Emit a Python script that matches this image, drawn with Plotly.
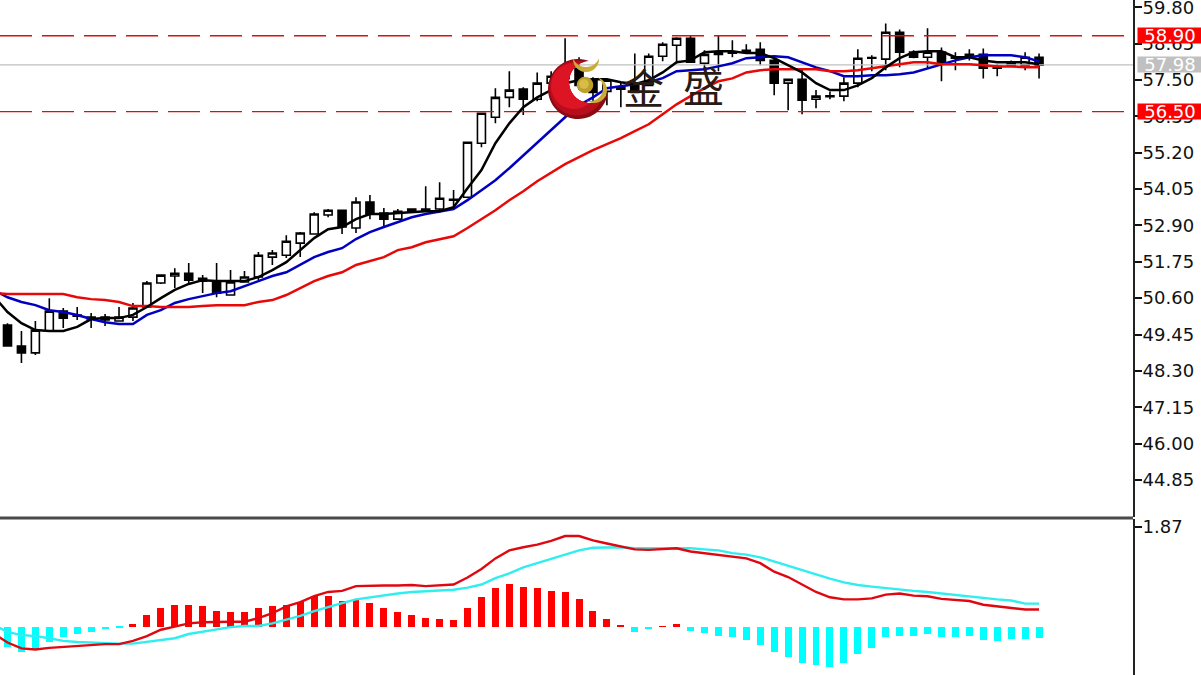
import numpy as np
import plotly.graph_objects as go

W, H = 1201, 675

opens = [49.75,49.09,48.87,49.56,50.19,50.07,50.00,50.00,49.88,50.00,50.32,51.08,51.30,51.39,51.23,51.14,50.70,51.11,51.27,51.90,
         51.96,52.34,52.63,53.23,53.38,52.82,53.64,53.29,53.10,53.42,53.42,53.42,53.73,53.79,55.50,56.32,56.95,57.21,56.89,57.40,
         57.55,57.87,57.49,57.14,57.21,57.33,57.33,58.25,58.60,58.82,58.03,58.31,58.38,58.44,58.47,58.12,57.40,57.52,56.89,57.00,
         56.99,57.40,58.19,58.16,59.01,58.38,58.22,58.38,58.22,58.25,58.31,57.87,57.97,57.97,58.22]
highs = [49.81,49.56,49.88,50.60,50.29,50.32,50.13,50.10,50.32,50.45,51.14,51.36,51.55,51.71,51.33,51.71,51.49,51.46,52.06,52.12,
         52.59,52.69,53.32,53.42,53.38,53.79,53.86,53.45,53.42,53.42,54.14,54.27,54.02,55.53,56.45,57.24,57.78,57.27,57.74,57.78,
         58.82,58.22,57.59,57.49,57.43,58.34,58.34,58.69,58.85,58.91,58.44,58.91,58.76,58.63,58.69,58.22,57.52,57.87,57.18,57.14,
         57.59,58.47,58.28,59.29,59.10,58.44,59.14,58.53,58.38,58.47,58.50,58.00,58.12,58.38,58.34]
lows = [49.09,48.55,48.80,49.56,49.66,49.91,49.66,49.72,49.88,49.88,50.32,51.05,50.92,51.08,50.76,50.63,50.70,51.11,51.17,51.65,
        51.87,51.90,52.63,53.16,52.63,52.66,53.10,52.88,53.07,53.35,53.35,53.38,53.48,53.76,55.37,56.13,56.64,56.39,56.83,57.11,
        57.18,57.18,56.70,56.70,56.64,57.08,57.33,58.09,58.03,58.06,57.81,57.78,58.22,58.35,57.97,57.02,56.54,56.42,56.61,56.89,
        56.83,57.27,57.78,57.81,57.90,58.19,57.87,57.46,57.81,58.12,57.55,57.62,57.93,57.81,57.55]
closes = [49.09,48.87,49.59,50.19,49.97,50.03,49.94,49.91,50.00,50.29,51.08,51.33,51.39,51.17,51.14,50.76,51.11,51.27,51.96,52.03,
          52.40,52.66,53.26,53.38,52.85,53.64,53.26,53.10,53.35,53.35,53.35,53.76,53.70,55.53,56.45,56.95,57.18,56.89,57.40,57.62,
          57.74,57.33,57.11,57.49,57.27,57.11,58.25,58.63,58.82,58.06,58.31,58.38,58.35,58.41,58.12,57.40,57.52,56.86,56.99,56.97,
          57.40,58.19,58.21,59.01,58.38,58.22,58.38,58.03,58.19,58.31,57.87,57.93,58.06,58.22,57.97]

ma_black = [50.67,50.16,49.81,49.59,49.56,49.56,49.69,49.94,49.97,49.97,50.07,50.32,50.60,50.86,51.05,51.17,51.14,51.14,51.14,51.27,51.49,
            51.74,52.12,52.50,52.78,52.85,53.10,53.26,53.26,53.29,53.32,53.35,53.35,53.48,54.08,54.65,55.50,56.13,56.64,56.95,57.18,
            57.40,57.49,57.52,57.52,57.43,57.37,57.49,57.74,58.06,58.12,58.38,58.41,58.41,58.35,58.35,58.19,57.97,57.74,57.40,57.18,
            57.18,57.33,57.56,57.90,58.19,58.38,58.41,58.41,58.22,58.22,58.12,58.06,58.06,58.06,58.00]
ma_blue = [50.86,50.63,50.48,50.38,50.22,50.16,50.07,49.94,49.84,49.78,49.78,50.07,50.22,50.45,50.57,50.67,50.76,50.82,50.98,51.14,51.30,
           51.42,51.65,51.90,52.06,52.18,52.47,52.69,52.85,53.00,53.16,53.26,53.35,53.42,53.70,54.02,54.33,54.71,55.12,55.50,55.91,
           56.32,56.70,56.95,57.24,57.30,57.37,57.43,57.56,57.78,57.81,57.84,57.93,58.03,58.19,58.22,58.25,58.22,58.06,57.90,57.78,
           57.62,57.62,57.65,57.65,57.68,57.74,57.87,58.00,58.12,58.22,58.28,58.28,58.28,58.22,58.09]
ma_red = [50.76,50.73,50.73,50.73,50.73,50.73,50.63,50.57,50.54,50.48,50.35,50.35,50.32,50.32,50.32,50.35,50.38,50.38,50.38,50.48,50.54,
          50.70,50.92,51.14,51.30,51.42,51.65,51.77,51.90,52.12,52.21,52.37,52.47,52.56,52.82,53.10,53.38,53.70,53.98,54.30,54.58,
          54.84,55.06,55.28,55.47,55.66,55.88,56.10,56.42,56.73,56.99,57.24,57.46,57.55,57.74,57.81,57.84,57.84,57.84,57.84,57.78,
          57.78,57.81,57.87,57.93,58.00,58.06,58.06,58.00,58.00,58.00,57.97,57.93,57.93,57.90,57.90]

macd_hist = [-0.38,-0.48,-0.43,-0.29,-0.20,-0.14,-0.10,-0.04,-0.01,0.04,0.22,0.34,0.41,0.41,0.38,0.30,0.27,0.27,0.34,0.38,
             0.41,0.46,0.57,0.57,0.48,0.51,0.44,0.34,0.27,0.22,0.17,0.15,0.13,0.34,0.55,0.72,0.80,0.74,0.72,0.67,
             0.65,0.51,0.29,0.15,0.02,-0.10,-0.05,0.01,0.04,-0.08,-0.13,-0.17,-0.20,-0.25,-0.34,-0.48,-0.57,-0.69,-0.73,-0.76,
             -0.69,-0.52,-0.40,-0.20,-0.17,-0.17,-0.14,-0.20,-0.20,-0.18,-0.25,-0.27,-0.24,-0.23,-0.22]
macd_red = [-0.13,-0.30,-0.41,-0.43,-0.40,-0.38,-0.37,-0.34,-0.33,-0.33,-0.27,-0.18,-0.06,0.00,0.06,0.08,0.09,0.09,0.09,0.16,0.25,
            0.38,0.46,0.57,0.65,0.67,0.76,0.77,0.77,0.77,0.78,0.76,0.77,0.79,0.92,1.08,1.28,1.43,1.49,1.54,1.61,
            1.70,1.70,1.62,1.56,1.51,1.45,1.44,1.46,1.47,1.41,1.38,1.35,1.32,1.28,1.19,1.03,0.93,0.79,0.65,0.55,
            0.51,0.51,0.53,0.60,0.62,0.58,0.57,0.52,0.50,0.48,0.41,0.38,0.36,0.32,0.32]
macd_cyan = [0.03,-0.10,-0.16,-0.18,-0.22,-0.27,-0.29,-0.30,-0.32,-0.32,-0.32,-0.29,-0.25,-0.22,-0.14,-0.10,-0.05,-0.01,0.01,0.01,0.06,
             0.13,0.20,0.29,0.37,0.44,0.51,0.55,0.58,0.62,0.65,0.66,0.68,0.69,0.73,0.79,0.91,1.00,1.11,1.19,1.27,
             1.35,1.43,1.48,1.49,1.49,1.47,1.47,1.48,1.48,1.47,1.45,1.43,1.38,1.35,1.30,1.22,1.14,1.06,0.97,0.90,
             0.83,0.78,0.75,0.72,0.70,0.67,0.65,0.62,0.59,0.57,0.54,0.51,0.49,0.43,0.43]

price_ticks = [59.80,58.65,57.50,56.35,55.20,54.05,52.90,51.75,50.60,49.45,48.30,47.15,46.00,44.85]
macd_ticks = [1.87]
levels_red = [58.90,56.50]
level_last = 57.98
label_red = ["58.90","56.50"]
label_last = "57.98"
logo_chars = ["金","盛"]

X_RANGE = [-0.538, 80.74]
Y_RANGE = [43.68, 60.03]
M_RANGE = [-0.91, 2.02]
PLOT_R = 1133 / W
SPLIT_TOP = (H - 517) / H
SPLIT_BOT = (H - 519) / H
FONT = "DejaVu Sans"
TICK_SIZE = 18

candle_x = list(range(len(opens)))
line_x = list(range(-1, len(ma_black) - 1))
m_line_x = list(range(-1, len(macd_red) - 1))
hist_x = list(range(len(macd_hist)))

fig = go.Figure()

for v in levels_red:
    fig.add_trace(go.Scatter(x=X_RANGE, y=[v, v], mode="lines",
                             line=dict(color="#d81010", width=1.3, dash="32px,10px"), hoverinfo="skip"))
fig.add_trace(go.Scatter(x=X_RANGE, y=[level_last, level_last], mode="lines",
                         line=dict(color="#c0c0c0", width=1.2), hoverinfo="skip"))

fig.add_trace(go.Candlestick(x=candle_x, open=opens, high=highs, low=lows, close=closes,
                             increasing=dict(line=dict(color="black", width=1.6), fillcolor="white"),
                             decreasing=dict(line=dict(color="black", width=1.6), fillcolor="black"),
                             whiskerwidth=0))
fig.add_trace(go.Scatter(x=line_x, y=ma_blue, mode="lines", line=dict(color="#0000c0", width=2.5)))
fig.add_trace(go.Scatter(x=line_x, y=ma_red, mode="lines", line=dict(color="#e80808", width=2.5)))
fig.add_trace(go.Scatter(x=line_x, y=ma_black, mode="lines", line=dict(color="black", width=2.5)))

fig.add_trace(go.Bar(x=hist_x, y=macd_hist, width=0.5,
                     marker=dict(color=["#ff0000" if v > 0 else "#00ffff" for v in macd_hist], line=dict(width=0)),
                     xaxis="x2", yaxis="y2"))
fig.add_trace(go.Scatter(x=m_line_x, y=macd_cyan, mode="lines", line=dict(color="#30eef0", width=2.4),
                         xaxis="x2", yaxis="y2"))
fig.add_trace(go.Scatter(x=m_line_x, y=macd_red, mode="lines", line=dict(color="#e00810", width=2.4),
                         xaxis="x2", yaxis="y2"))


def px(x, y):
    return x / W, 1 - y / H


def crescent(cx, cy, r, ix, iy, ir, color):
    """Logo crescent: outer disc minus inner disc, as a closed outline."""
    d = np.hypot(ix - cx, iy - cy)
    base = np.arctan2(iy - cy, ix - cx)
    a = np.arccos((d * d + r * r - ir * ir) / (2 * d * r))
    b = np.arccos((d * d + ir * ir - r * r) / (2 * d * ir))
    t1 = np.linspace(base + a, base + 2 * np.pi - a, 50)
    t2 = np.linspace(base + np.pi + b, base + np.pi - b, 40)
    xs = list(cx + r * np.cos(t1)) + list(ix + ir * np.cos(t2))
    ys = list(cy + r * np.sin(t1)) + list(iy + ir * np.sin(t2))
    pts = [px(x, y) for x, y in zip(xs, ys)]
    path = "M " + " L ".join(f"{p[0]:.5f} {p[1]:.5f}" for p in pts) + " Z"
    return dict(type="path", xref="paper", yref="paper", path=path, layer="above",
                fillcolor=color, line=dict(width=0))


def disc(cx, cy, r, color):
    x0, y0 = px(cx - r, cy - r)
    x1, y1 = px(cx + r, cy + r)
    return dict(type="circle", xref="paper", yref="paper", x0=x0, x1=x1, y0=y1, y1=y0,
                layer="above", fillcolor=color, line=dict(width=0))


shapes = [
    crescent(578, 89, 30, 590, 82, 21, "#8a0b12"),
    crescent(577, 88, 27.5, 590, 82, 21, "#b80d1a"),
    crescent(574, 86, 23, 590, 82, 21, "#dc1424"),
    disc(585, 85, 8.3, "#bd9f2c"),
    disc(584, 84, 4.8, "#d6bd48"),
    crescent(586, 59, 13, 586, 53, 14, "#c9ab3a"),
    crescent(594, 90, 13, 590, 88, 13, "#c9ab3a"),
    # separator between panels
    dict(type="line", xref="paper", yref="paper", x0=0, x1=PLOT_R, y0=1 - 518 / H, y1=1 - 518 / H,
         line=dict(color="#4a4a4a", width=3), layer="above"),
]

annotations = []
for v, t in zip(levels_red, label_red):
    annotations.append(dict(x=1136.5 / W, xanchor="left", y=v, yref="y", xref="paper", text=t, showarrow=False,
                            bgcolor="#ff0000", width=64, height=15, borderpad=0, align="center",
                            font=dict(family=FONT, size=TICK_SIZE, color="white")))
annotations.append(dict(x=1136.5 / W, xanchor="left", y=level_last, yref="y", xref="paper", text=label_last,
                        showarrow=False, bgcolor="#c0c0c0", width=64, height=15, borderpad=0, align="center",
                        font=dict(family=FONT, size=TICK_SIZE, color="white")))
for ch, cx, cy in zip(logo_chars, [644, 703], [86, 84]):
    annotations.append(dict(x=cx / W, y=1 - cy / H, xref="paper", yref="paper", text=ch, showarrow=False,
                            xanchor="center", yanchor="middle",
                            font=dict(family="Noto Sans CJK SC", size=41, color="#2a1a14")))

fig.update_layout(
    width=W, height=H, margin=dict(l=0, r=0, t=0, b=0, pad=0, autoexpand=False),
    paper_bgcolor="white", plot_bgcolor="white", showlegend=False,
    boxmode="group", boxgap=0.3, boxgroupgap=0.18, bargap=0,
    font=dict(family=FONT, size=16, color="#111111"),
    xaxis=dict(domain=[0, PLOT_R], range=X_RANGE, anchor="y", showgrid=False, zeroline=False,
               showticklabels=False, ticks="", rangeslider=dict(visible=False), showline=False),
    yaxis=dict(domain=[SPLIT_TOP, 1], range=Y_RANGE, side="right", anchor="x", showgrid=False, zeroline=False,
               tickvals=price_ticks, ticktext=[f"{v:.2f}" for v in price_ticks], ticks="outside", ticklen=7,
               tickwidth=1.5, tickcolor="#111111", showline=True, linecolor="#222222", linewidth=2,
               ticklabeloverflow="allow", ticklabelstandoff=-3,
               tickfont=dict(family=FONT, size=TICK_SIZE, color="#111111")),
    xaxis2=dict(domain=[0, PLOT_R], range=X_RANGE, anchor="y2", showgrid=False, zeroline=False,
                showticklabels=False, ticks="", showline=False),
    yaxis2=dict(domain=[0, SPLIT_BOT], range=M_RANGE, side="right", anchor="x2", showgrid=False, zeroline=False,
                tickvals=macd_ticks, ticktext=[f"{v:.2f}" for v in macd_ticks], ticks="outside", ticklen=7,
                tickwidth=1.5, tickcolor="#111111", showline=True, linecolor="#222222", linewidth=2,
                ticklabeloverflow="allow", ticklabelstandoff=-3,
                tickfont=dict(family=FONT, size=TICK_SIZE, color="#111111")),
    shapes=shapes, annotations=annotations,
)

fig.write_html("out.html", config=dict(displayModeBar=False),
               post_script="document.body.style.margin='0';document.body.style.overflow='hidden';")
